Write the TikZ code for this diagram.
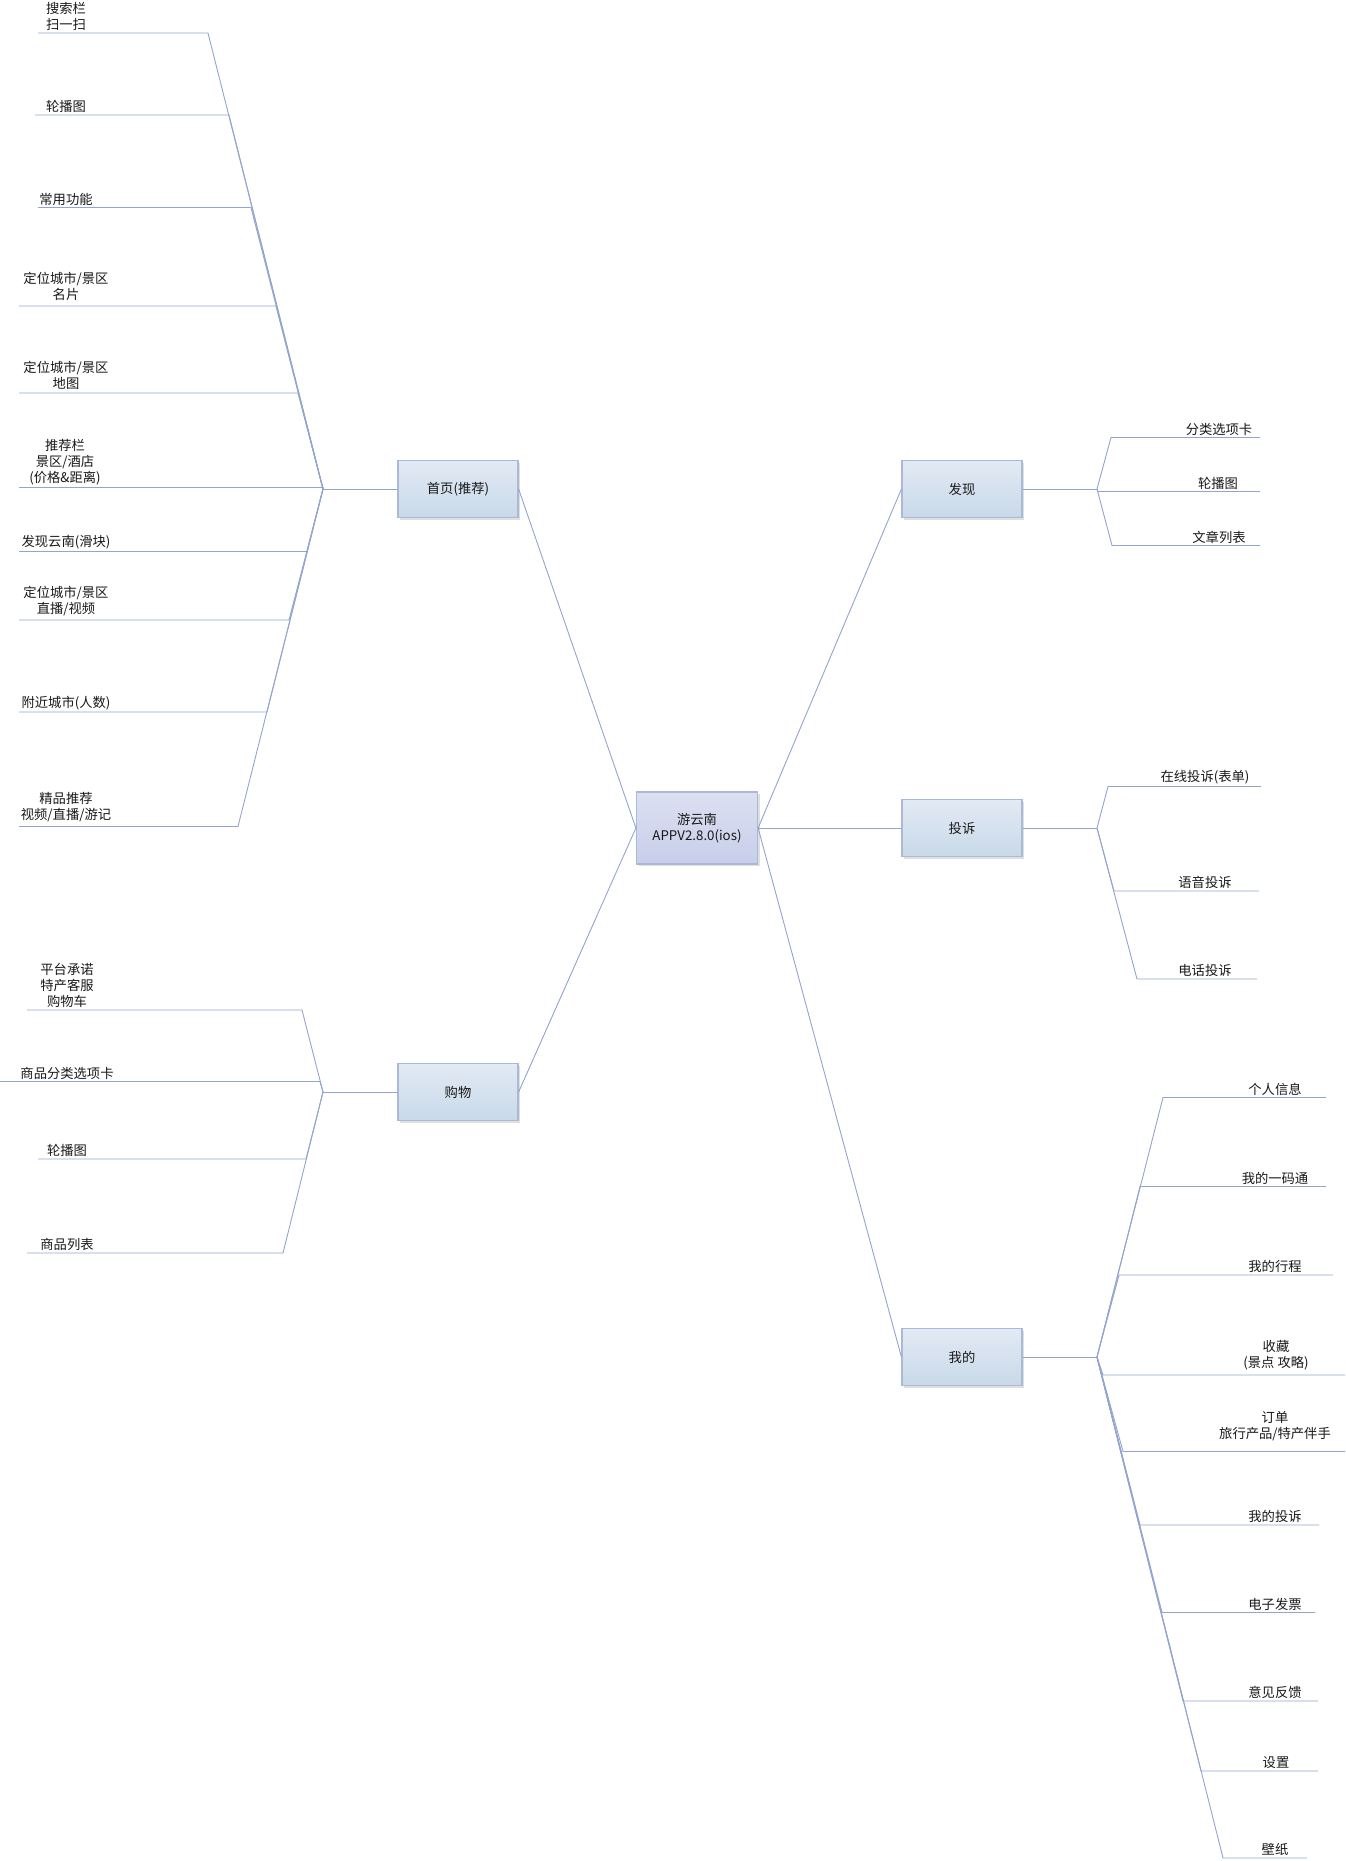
\documentclass[tikz,border=0pt]{standalone}
\usepackage{fontspec}
\setmainfont{Noto Sans CJK SC}
\usetikzlibrary{shadows}
\definecolor{linec}{HTML}{93A5CE}
\definecolor{boxtop}{HTML}{E2EAF4}
\definecolor{boxbot}{HTML}{C9D9E9}
\definecolor{boxdraw}{HTML}{A9B9D6}
\definecolor{roottop}{HTML}{DCE0F2}
\definecolor{rootbot}{HTML}{C8CEEA}
\tikzset{
  conn/.style={draw=linec, line width=0.9pt},
  mbox/.style={draw=boxdraw, line width=1.2pt, top color=boxtop, bottom color=boxbot,
    minimum width=120pt, minimum height=57pt, inner sep=0pt,
    drop shadow={shadow xshift=2pt, shadow yshift=-2pt, opacity=0.25, fill=gray}},
  rootbox/.style={mbox, top color=roottop, bottom color=rootbot, minimum width=121pt, minimum height=72pt, align=center},
  leaf/.style={anchor=south, inner sep=2pt, align=center},
  every node/.style={font=\fontsize{13.3}{16}\selectfont, text=black!90}
}
\newcommand{\mleaf}[8][]{%
  \coordinate (#2i) at (#4,#6);
  \coordinate (#2o) at (#5,#6);
  \node[leaf,#1] (#2) at (#7,#6) {#8};
  \draw[conn] (#3) -- (#2i) -- (#2o);}
\begin{document}
\begin{tikzpicture}[x=1pt, y=-1pt]
\path[fill=white, use as bounding box] (0,0) rectangle (1345,1861);

% main nodes
\node[rootbox] (root) at (697,828) {游云南\\APPV2.8.0(ios)};
\node[mbox] (home) at (458,489) {首页(推荐)};
\node[mbox] (shop) at (458,1092) {购物};
\node[mbox] (disc) at (962,489) {发现};
\node[mbox] (comp) at (962,828) {投诉};
\node[mbox] (mine) at (962,1357) {我的};

\draw[conn] (root.west) -- (home.east);
\draw[conn] (root.west) -- (shop.east);
\draw[conn] (root.east) -- (disc.west);
\draw[conn] (root.east) -- (comp.west);
\draw[conn] (root.east) -- (mine.west);

% forks
\coordinate (hf) at (323,489);
\coordinate (sf) at (323,1092);
\coordinate (df) at (1097,489);
\coordinate (cf) at (1097,828);
\coordinate (mf) at (1097,1357);
\draw[conn] (home.west) -- (hf);
\draw[conn] (shop.west) -- (sf);
\draw[conn] (disc.east) -- (df);
\draw[conn] (comp.east) -- (cf);
\draw[conn] (mine.east) -- (mf);

% home leaves
\mleaf{h1}{hf}{208}{38}{33}{66}{搜索栏\\扫一扫}
\mleaf{h2}{hf}{229}{35}{115}{66}{轮播图}
\mleaf{h3}{hf}{251}{38}{207.5}{66}{常用功能}
\mleaf[yshift=3pt]{h4}{hf}{276}{19}{306}{66}{定位城市/景区\\名片}
\mleaf[yshift=1pt]{h5}{hf}{298}{19}{393}{66}{定位城市/景区\\地图}
\mleaf{h6}{hf}{323}{19}{487.5}{65}{推荐栏\\景区/酒店\\(价格\&距离)}
\mleaf{h7}{hf}{307}{19}{551.5}{66}{发现云南(滑块)}
\mleaf[yshift=2pt]{h8}{hf}{289}{19}{620}{66}{定位城市/景区\\直播/视频}
\mleaf{h9}{hf}{267}{19}{712}{66}{附近城市(人数)}
\mleaf[yshift=2pt]{h10}{hf}{238}{19}{826.5}{66}{精品推荐\\视频/直播/游记}

% shop leaves
\mleaf{s1}{sf}{302}{27}{1010}{67}{平台承诺\\特产客服\\购物车}
\mleaf{s2}{sf}{320}{0}{1081.5}{67}{商品分类选项卡}
\mleaf{s3}{sf}{306}{38}{1159}{67}{轮播图}
\mleaf{s4}{sf}{283}{27}{1253}{67}{商品列表}

% discover leaves
\mleaf{d1}{df}{1111}{1260}{437.5}{1219}{分类选项卡}
\mleaf{d2}{df}{1097}{1260}{491.5}{1218}{轮播图}
\mleaf{d3}{df}{1112}{1260}{545.5}{1219}{文章列表}

% complaint leaves
\mleaf{c1}{cf}{1108}{1261}{786.5}{1205}{在线投诉(表单)}
\mleaf{c2}{cf}{1114}{1259}{891}{1205}{语音投诉}
\mleaf{c3}{cf}{1137}{1257}{979}{1205}{电话投诉}

% mine leaves
\mleaf{m1}{mf}{1163}{1326}{1097.5}{1275}{个人信息}
\mleaf{m2}{mf}{1140}{1326}{1186.5}{1275}{我的一码通}
\mleaf{m3}{mf}{1119}{1333}{1275}{1275}{我的行程}
\mleaf[yshift=3pt]{m4}{mf}{1103}{1345}{1375}{1276}{收藏\\(景点 攻略)}
\mleaf[yshift=8pt]{m5}{mf}{1123}{1345}{1451.5}{1275}{订单\\旅行产品/特产伴手}
\mleaf{m6}{mf}{1140}{1319}{1525}{1275}{我的投诉}
\mleaf{m7}{mf}{1162}{1315}{1612.5}{1275}{电子发票}
\mleaf{m8}{mf}{1183}{1318}{1701}{1275}{意见反馈}
\mleaf{m9}{mf}{1201}{1318}{1771}{1276}{设置}
\mleaf{m10}{mf}{1223}{1307}{1858}{1275}{壁纸}
\end{tikzpicture}
\end{document}
